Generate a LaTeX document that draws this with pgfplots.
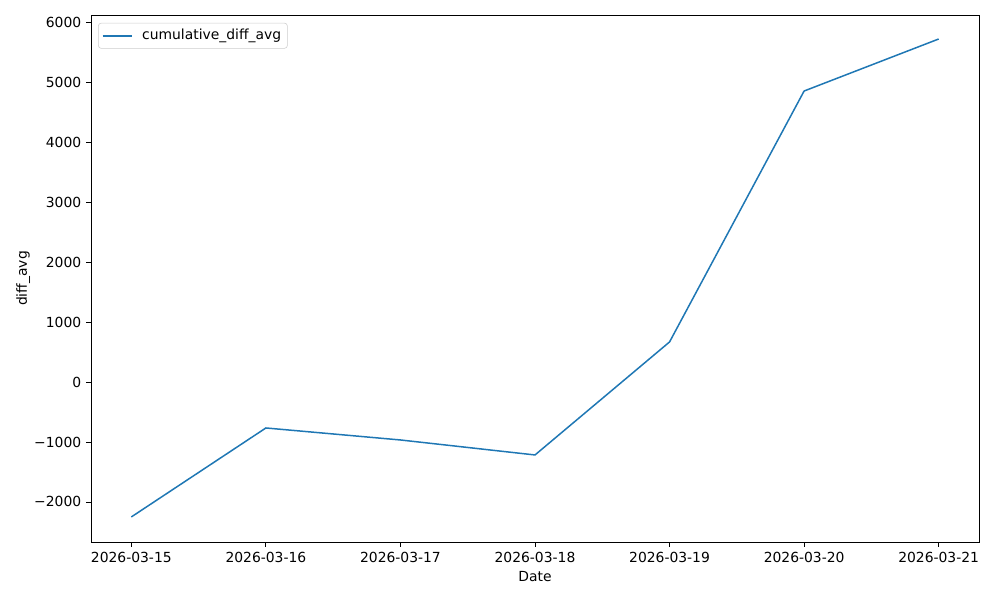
\documentclass[border=0pt]{standalone}
\usepackage{pgfplots}
\pgfplotsset{compat=1.18}
\usepackage{fontspec}
\setmainfont{DejaVu Sans}
\definecolor{mplblue}{HTML}{1F77B4}

\begin{document}
\begin{tikzpicture}
\useasboundingbox (-65.5pt,-41.8pt) rectangle (654.5pt,390.2pt);
\begin{axis}[
  at={(0,0)}, anchor=south west,
  scale only axis, width=639.4pt, height=379.4pt,
  xmin=-0.3, xmax=6.3, ymin=-2667, ymax=6117,
  xtick={0,1,2,3,4,5,6},
  xticklabels={2026-03-15,2026-03-16,2026-03-17,2026-03-18,2026-03-19,2026-03-20,2026-03-21},
  ytick={-2000,-1000,0,1000,2000,3000,4000,5000,6000},
  yticklabels={−2000,−1000,0,1000,2000,3000,4000,5000,6000},
  tick align=outside, major tick length=3.5pt,
  xtick pos=bottom, ytick pos=left,
  tick style={black, line width=0.6pt},
  axis line style={line width=0.6pt},
  tick label style={font=\fontsize{10}{12}\selectfont},
  label style={font=\fontsize{10}{12}\selectfont},
  xlabel={Date}, ylabel={diff\_avg},
  ylabel style={yshift=-4pt},
  legend style={font=\fontsize{10}{12}\selectfont, draw=black!20, rounded corners=2pt,
    at={(0.008,0.985)}, anchor=north west, inner sep=2.5pt},
  legend cell align=left,
  legend image code/.code={\draw[#1] (0pt,0pt) -- (21pt,0pt);},
]
\addplot[mplblue, line width=1.08pt] coordinates {
  (0,-2250) (1,-767) (2,-967) (3,-1217) (4,667) (5,4850) (6,5717)};
\addlegendentry{\hspace{5pt}cumulative\_diff\_avg}
\end{axis}
\end{tikzpicture}
\end{document}
